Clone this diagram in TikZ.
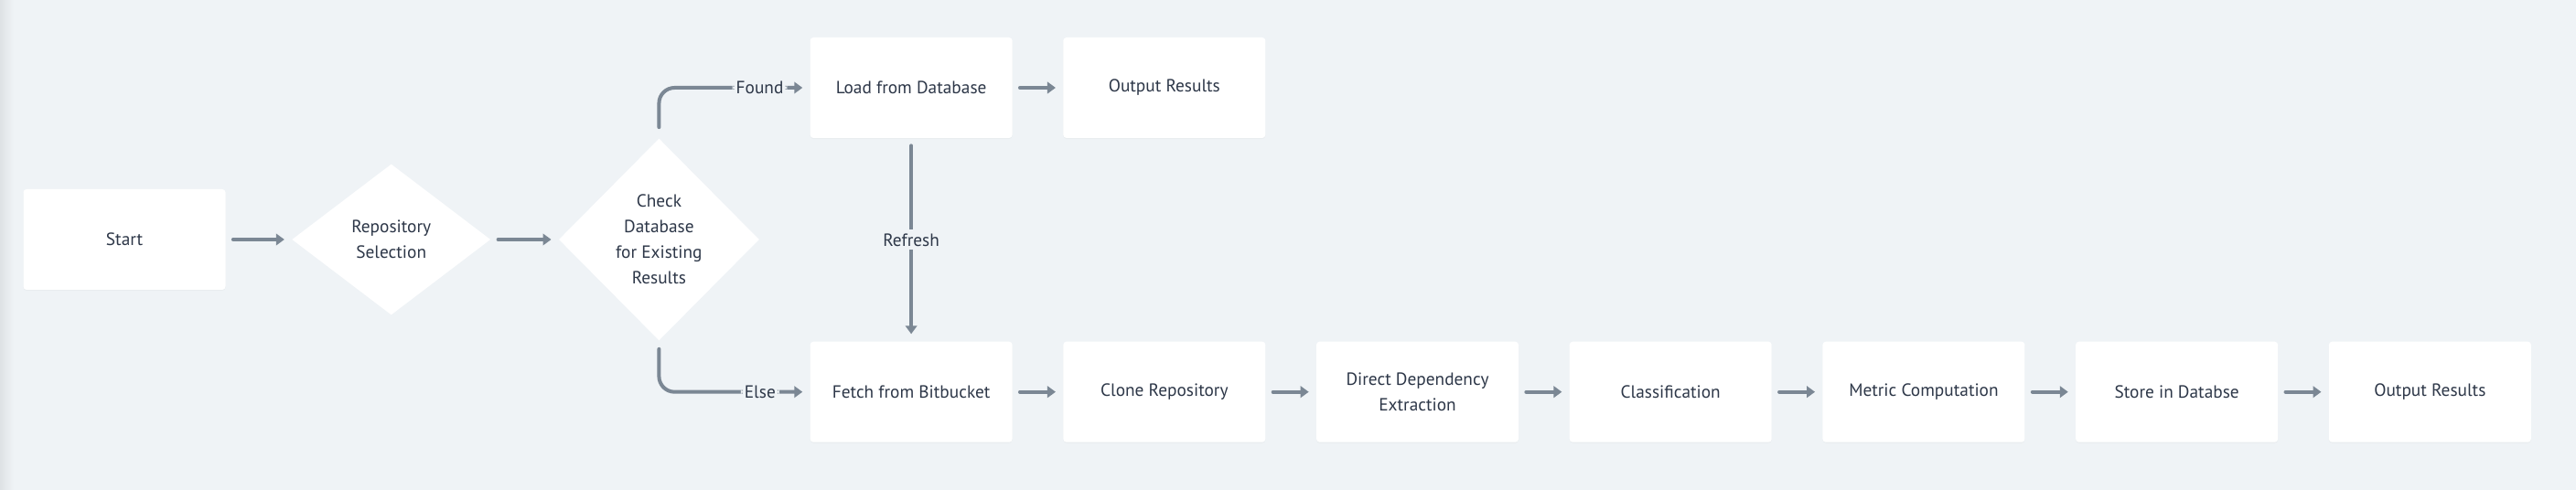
\documentclass[tikz,border=0pt]{standalone}
\usepackage{fontspec}
\setmainfont{PT Sans}
\usetikzlibrary{positioning,arrows.meta,shapes.geometric,shadows}
\definecolor{bgcol}{HTML}{EFF3F6}
\definecolor{linkcol}{HTML}{7B8794}
\definecolor{textcol}{HTML}{2D3748}

\begin{document}
\begin{tikzpicture}[
  font=\fontsize{11}{16}\selectfont, text=textcol,
  box/.style={fill=white, rounded corners=2pt, minimum width=4.42cm, minimum height=2.2cm, align=center, inner sep=0pt, drop shadow={shadow xshift=0pt, shadow yshift=-0.6pt, opacity=0.05}},
  choice/.style={diamond, fill=white, inner sep=0pt, align=center},
  arrow/.style={-{Triangle[length=0.18cm, width=0.25cm]}, draw=linkcol, line width=0.08cm, line cap=round, shorten <=0.16cm, shorten >=0.16cm},
  lbl/.style={fill=bgcol, inner sep=0.08cm}
]
\fill[bgcol] (0,0) rectangle (56.32,10.72);
\shade[left color=black!7!bgcol, right color=bgcol] (0,0) rectangle (0.3,10.72);

\node[box] (start) at (2.72,5.48) {Start};
\node[choice, minimum width=4.34cm, minimum height=3.3cm, right=1.44cm of start] (repo) {Repository\\Selection};
\node[choice, minimum width=4.38cm, minimum height=4.42cm, right=1.48cm of repo] (check) {Check\\Database\\for Existing\\Results};
\node[box, right=1.1cm of check.east, yshift=3.32cm] (load) {Load from Database};
\node[box, right=1.1cm of load] (out1) {Output Results};
\node[box, below=4.44cm of load] (fetch) {Fetch from Bitbucket};
\node[box, right=1.1cm of fetch] (clone) {Clone Repository};
\node[box, right=1.1cm of clone] (extract) {Direct Dependency\\Extraction};
\node[box, right=1.1cm of extract] (classify) {Classification};
\node[box, right=1.1cm of classify] (metric) {Metric Computation};
\node[box, right=1.1cm of metric] (store) {Store in Databse};
\node[box, right=1.1cm of store] (out2) {Output Results};

\draw[arrow] (start) -- (repo);
\draw[arrow] (repo) -- (check);
\draw[arrow, rounded corners=0.34cm, shorten <=0.24cm] (check.north) |- node[lbl, pos=0.834] {Found} (load.west);
\draw[arrow, rounded corners=0.34cm, shorten <=0.18cm] (check.south) |- node[lbl, pos=0.835] {Else} (fetch.west);
\draw[arrow] (load) -- (out1);
\draw[arrow] (load) -- node[lbl] {Refresh} (fetch);
\draw[arrow] (fetch) -- (clone);
\draw[arrow] (clone) -- (extract);
\draw[arrow] (extract) -- (classify);
\draw[arrow] (classify) -- (metric);
\draw[arrow] (metric) -- (store);
\draw[arrow] (store) -- (out2);
\end{tikzpicture}
\end{document}
